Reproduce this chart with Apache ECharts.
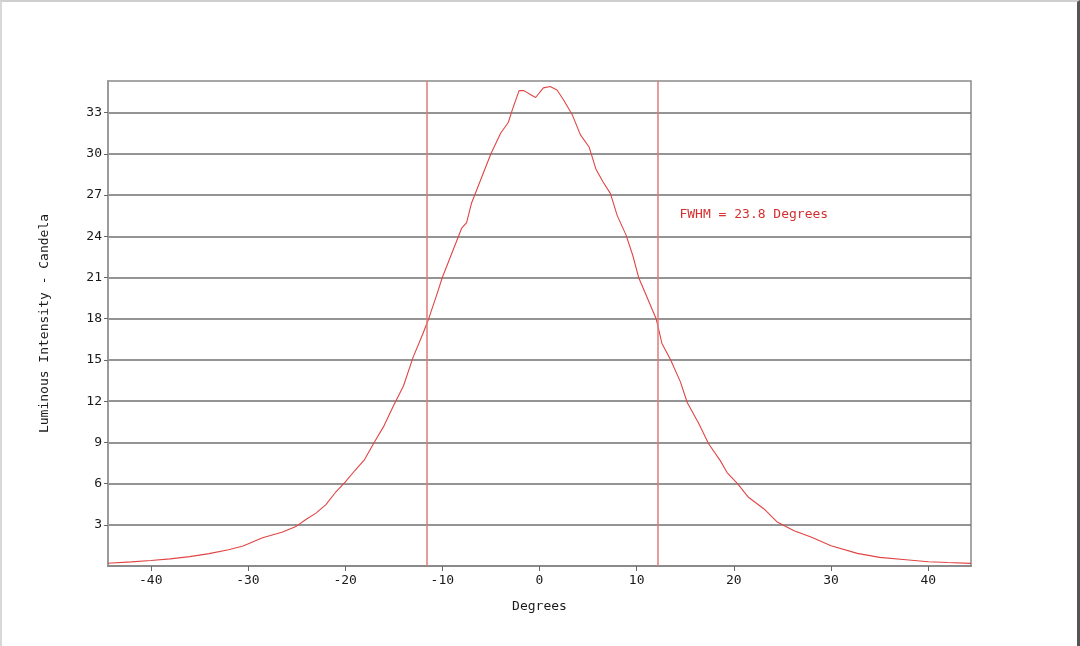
<!DOCTYPE html>
<html>
<head>
<meta charset="utf-8">
<title>Luminous Intensity</title>
<script src="https://cdn.jsdelivr.net/npm/echarts@6/dist/echarts.min.js"></script>
<style>
  html, body { margin: 0; padding: 0; background: #fff; }
  #chart { width: 1080px; height: 646px; }
  #frame {
    position: absolute; left: 0; top: 0; width: 1080px; height: 646px;
    box-sizing: border-box; pointer-events: none;
    border-top: 2px solid #cfcfcf; border-left: 2px solid #d8d8d8; border-right: 3px solid #555;
  }
</style>
</head>
<body>
<div id="chart"></div>
<div id="frame"></div>
<script>
// angle in degrees, luminous intensity in candela
const angles = [
  -44.4, -42, -40, -38, -36, -34, -32, -30.5, -28.5, -26.5, -25, -24, -23, -22, -21,
  -20, -19, -18, -17, -16, -15, -14, -13, -12, -11.4, -10.5, -10, -9, -8, -7.5, -7,
  -6, -5, -4, -3.2, -2.8, -2.1, -1.6, -0.9, -0.4, 0.4, 1.1, 1.8, 2.5, 3.4, 4.2, 5.1,
  5.8, 6.5, 7.3, 8, 8.9, 9.6, 10.2, 11.1, 12, 12.6, 13.5, 14.5, 15.2, 16.4, 17.4,
  18.6, 19.3, 20.4, 21.5, 23.1, 24.5, 26.2, 28, 30, 32.7, 35, 38, 40, 42, 44.4
];
const intensity = [
  0.2, 0.3, 0.4, 0.52, 0.68, 0.9, 1.18, 1.45, 2.05, 2.45, 2.9, 3.4, 3.85, 4.45, 5.35,
  6.1, 6.95, 7.75, 9.0, 10.2, 11.7, 13.1, 15.2, 16.9, 18.0, 19.9, 21.0, 22.8, 24.6, 25.0, 26.4,
  28.2, 30.0, 31.5, 32.3, 33.2, 34.6, 34.6, 34.3, 34.1, 34.8, 34.9, 34.65, 33.9, 32.8, 31.4, 30.5,
  28.9, 28.0, 27.1, 25.5, 24.1, 22.6, 21.0, 19.5, 18.0, 16.2, 15.0, 13.4, 11.9, 10.35, 8.9,
  7.67, 6.8, 5.98, 5.0, 4.15, 3.18, 2.57, 2.09, 1.48, 0.92, 0.63, 0.44, 0.31, 0.25, 0.19
];
const xTicks = [-40, -30, -20, -10, 0, 10, 20, 30, 40];
const yTicks = [3, 6, 9, 12, 15, 18, 21, 24, 27, 30, 33];
const fwhmEdges = [-11.6, 12.2];
const fwhmText = 'FWHM = 23.8 Degrees';
const fwhmTextAt = [14.4, 25.6];

const mono = 'DejaVu Sans Mono';
const points = angles.map((a, i) => [a, intensity[i]]);

const chart = echarts.init(document.getElementById('chart'));
chart.setOption({
  backgroundColor: '#fff',
  animation: false,
  grid: {
    left: 108, right: 109, top: 81, bottom: 80,
    show: true, borderColor: '#8a8a8a', borderWidth: 1.5
  },
  xAxis: {
    type: 'value',
    min: -44.4, max: 44.4,
    name: 'Degrees',
    nameLocation: 'middle',
    nameGap: 34,
    nameTextStyle: { fontFamily: mono, fontSize: 13, color: '#1a1a1a' },
    axisLine: { onZero: false, lineStyle: { color: '#8a8a8a', width: 2 } },
    axisTick: { show: true, length: 5, customValues: xTicks, lineStyle: { color: '#666' } },
    axisLabel: { customValues: xTicks, margin: 8, fontFamily: mono, fontSize: 13, color: '#1a1a1a' },
    splitLine: { show: false }
  },
  yAxis: {
    type: 'value',
    min: 0, max: 35.3, interval: 3,
    name: 'Luminous Intensity - Candela',
    nameLocation: 'middle',
    nameGap: 57,
    nameTextStyle: { fontFamily: mono, fontSize: 13, color: '#1a1a1a' },
    axisLine: { show: true, onZero: false, lineStyle: { color: '#9a9a9a', width: 2 } },
    axisTick: { show: true, length: 4, customValues: yTicks, lineStyle: { color: '#666' } },
    axisLabel: {
      margin: 6, fontFamily: mono, fontSize: 13, color: '#1a1a1a',
      formatter: v => (yTicks.indexOf(v) >= 0 ? String(v) : '')
    },
    splitLine: { show: true, lineStyle: { color: '#707070', width: 1.5 } }
  },
  series: [{
    type: 'line',
    data: points,
    showSymbol: false,
    smooth: false,
    lineStyle: { color: '#e04545', width: 1.1 },
    markLine: {
      silent: true,
      symbol: 'none',
      label: { show: false },
      lineStyle: { color: '#e07a7a', width: 1.5, type: 'solid' },
      data: fwhmEdges.map(x => ({ xAxis: x }))
    },
    markPoint: {
      silent: true,
      symbol: 'circle',
      symbolSize: 0,
      data: [{
        coord: fwhmTextAt,
        label: {
          show: true, position: 'right', distance: 0,
          formatter: fwhmText,
          fontFamily: mono, fontSize: 13, color: '#d43030'
        }
      }]
    }
  }]
});
</script>
</body>
</html>
